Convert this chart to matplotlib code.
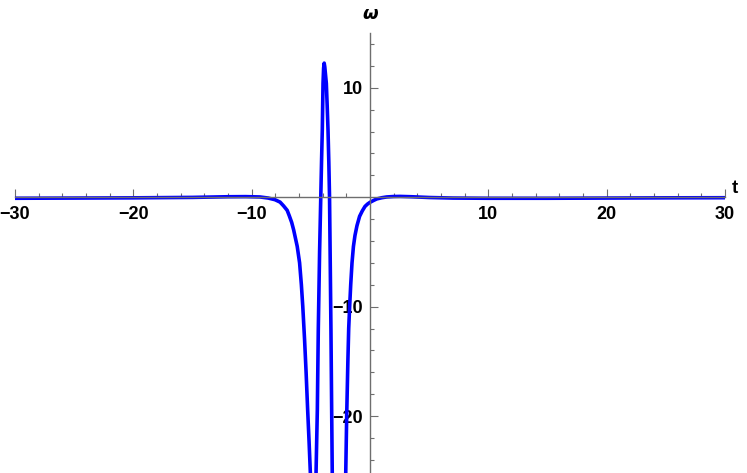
import matplotlib
matplotlib.use('Agg')
import matplotlib.pyplot as plt
from matplotlib.ticker import FixedLocator

# точки кривой omega(t)
t = [-30, -25, -20, -15, -12, -10.5, -9.3, -8.6, -8.03, -7.6, -7.3, -7.0,
     -6.82, -6.62, -6.45, -6.15, -5.95, -5.8, -5.68, -5.53, -5.40, -5.27, -5.15, -5.04, -4.93,
     -4.62, -4.56, -4.50, -4.45, -4.37, -4.26, -4.16, -4.09, -4.03, -3.97, -3.92,
     -3.87, -3.82, -3.76, -3.69, -3.62, -3.55, -3.48, -3.42, -3.36, -3.30, -3.24,
     -3.19, -3.17,
     -2.09, -2.05, -1.97, -1.87, -1.80, -1.72, -1.63, -1.52, -1.40, -1.27, -1.10,
     -0.88, -0.65, -0.42, -0.2, 0, 0.3, 0.57, 1.0, 1.41, 2.0, 2.54, 3.5, 5, 7, 10,
     15, 20, 25, 30]
omega = [-0.1, -0.08, -0.06, -0.02, 0.04, 0.05, 0.02, -0.08, -0.23, -0.45, -0.8, -1.2,
         -1.7, -2.3, -3.0, -4.5, -6.0, -8.0, -10.0, -13.0, -16.0, -19.4, -22.3, -25.2, -28,
         -28, -25.2, -22.0, -19.4, -12.1, -5.0, 0.0, 3.5, 6.2, 10.4, 11.8,
         12.25, 11.9, 11.2, 10.4, 8.4, 6.2, 3.2, 0.0, -6.0, -12.1, -19.4,
         -25.2, -28,
         -28, -25.2, -20.0, -15.0, -12.0, -10.0, -8.0, -6.0, -4.5, -3.5, -2.6,
         -1.75, -1.25, -0.84, -0.62, -0.47, -0.3, -0.16, -0.05, 0.02, 0.06, 0.07, 0.04,
         -0.03, -0.08, -0.1, -0.1, -0.08, -0.06, -0.05]

x_major = [-30, -20, -10, 10, 20, 30]
y_major = [-20, -10, 10]
x_minor = [v for v in range(-30, 31, 2) if v % 10 != 0]
y_minor = [v for v in range(-24, 15, 2) if v % 10 != 0]

plt.rcParams['font.family'] = ['Liberation Sans', 'DejaVu Sans']

fig = plt.figure(figsize=(7.47, 4.73), dpi=100)
ax = fig.add_axes([15 / 747, 0, 710 / 747, 440 / 473])

ax.plot(t, omega, color=(0, 0, 1), linewidth=2.6, solid_joinstyle='round')

ax.set_xlim(-30, 30)
ax.set_ylim(-25.2, 15.0)

axis_color = '#6e6e6e'
for side in ['top', 'right']:
    ax.spines[side].set_visible(False)
for side in ['left', 'bottom']:
    ax.spines[side].set_position(('data', 0))
    ax.spines[side].set_color(axis_color)
    ax.spines[side].set_linewidth(1.0)

ax.xaxis.set_major_locator(FixedLocator(x_major))
ax.xaxis.set_minor_locator(FixedLocator(x_minor))
ax.yaxis.set_major_locator(FixedLocator(y_major))
ax.yaxis.set_minor_locator(FixedLocator(y_minor))

ax.tick_params(which='both', direction='in', color=axis_color, width=0.8)
ax.tick_params(which='major', length=5.5, labelsize=13, pad=6)
ax.tick_params(which='minor', length=3)
ax.tick_params(axis='y', which='major', pad=5)
for lab in ax.get_xticklabels() + ax.get_yticklabels():
    lab.set_fontweight('bold')

ax.text(30.6, 0.8, 't', fontsize=13.5, fontweight='bold', ha='left', va='center',
        clip_on=False)
ax.text(0.0, 16.7, 'ω', fontsize=13, fontweight='bold', fontstyle='italic',
        ha='center', va='center', clip_on=False, family=['DejaVu Sans'])

fig.savefig('out.png', dpi=100)
